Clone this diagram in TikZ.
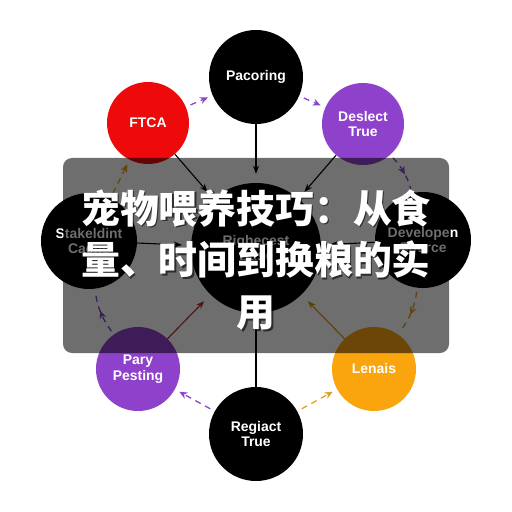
\documentclass[tikz,border=0pt]{standalone}
\usepackage{fontspec}
\setsansfont{Liberation Sans}
\newfontfamily\cjk{Noto Sans CJK SC}
\usepackage{tikz}
\usetikzlibrary{arrows.meta, positioning, decorations.markings}
\usepackage{xcolor}

\definecolor{ftcared}{RGB}{238,10,10}
\definecolor{bubblepurple}{RGB}{142,66,204}
\definecolor{bubbleorange}{RGB}{250,164,14}
\definecolor{flowpurple}{RGB}{140,70,205}
\definecolor{flowgold}{RGB}{228,160,30}
\definecolor{linkred}{RGB}{190,40,40}
\definecolor{linkgold}{RGB}{215,150,25}

\begin{document}
\begin{tikzpicture}[x=1bp, y=-1bp, on grid,
    bubble/.style={circle, inner sep=0pt, text=white, align=center,
        font=\sffamily\bfseries\fontsize{14}{16}\selectfont},
    link/.style={-{Stealth[length=8bp,width=6bp]}, line width=1.1bp, shorten >=9bp},
    flow/.style={dash pattern=on 6bp off 5bp, line width=1.3bp,
        shorten <=5bp, shorten >=5bp, -{Stealth[length=8bp,width=7bp]}},
    flowmid/.style={dash pattern=on 6bp off 5bp, line width=1.3bp,
        shorten <=4bp, shorten >=4bp, bend left=14,
        postaction={decorate, decoration={markings,
            mark=at position .55 with {\arrow{Stealth[length=8bp,width=7bp]}}}}}]
    \useasboundingbox[fill=white] (0,0) rectangle (512,512);

    \node[bubble, fill=black, minimum size=130bp] (righecest) at (256,248) {Righecest\\Base};
    \node[bubble, fill=black, minimum size=94bp] (pacoring) [above=171bp of righecest] {Pacoring};
    \node[bubble, fill=ftcared, minimum size=82bp] (ftca) [above left=125bp and 108bp of righecest] {FTCA};
    \node[bubble, fill=bubblepurple, minimum size=82bp] (deslect) [above right=124bp and 107bp of righecest] {Deslect\\True};
    \node[bubble, fill=black, minimum size=96bp] (stakeldint) [above left=7bp and 167bp of righecest] {Stakeldint\\Cache};
    \node[bubble, fill=black, minimum size=96bp] (developen) [above right=8bp and 167bp of righecest] {Developen\\Source};
    \node[bubble, fill=bubblepurple, minimum size=84bp] (pary) [below left=121bp and 118bp of righecest] {Pary\\Pesting};
    \node[bubble, fill=bubbleorange, minimum size=84bp] (lenais) [below right=121bp and 118bp of righecest] {Lenais};
    \node[bubble, fill=black, minimum size=94bp] (regiact) [below=186bp of righecest] {Regiact\\True};

    % spokes into the hub
    \path[link]
        (pacoring) edge (righecest)
        (ftca) edge (righecest)
        (deslect) edge (righecest)
        (stakeldint) edge (righecest)
        (developen) edge (righecest)
        (regiact) edge (righecest)
        (pary) edge[linkred] (righecest)
        (lenais) edge[linkgold] (righecest);

    % outer ring
    \path
        (ftca) edge[flow, flowpurple] (pacoring)
        (pacoring) edge[flow, flowpurple] (deslect)
        (deslect) edge[flowmid, flowpurple] (developen)
        (developen) edge[flowmid, flowgold] (lenais)
        (regiact) edge[flow, flowgold] (lenais)
        (regiact) edge[flow, flowpurple] (pary)
        (pary) edge[flowmid, flowpurple] (stakeldint)
        (stakeldint) edge[flow, flowgold] (ftca);

    % caption panel
    \fill[black, fill opacity=.57, rounded corners=9bp] (63,158) rectangle (449,353);
    \node[black, opacity=.6, align=center, font=\cjk\bfseries\fontsize{39}{52}\selectfont]
        (captionshadow) at (257.5,261.5) {宠物喂养技巧：从食\\量、时间到换粮的实\\用};
    \node[white, align=center, font=\cjk\bfseries\fontsize{39}{52}\selectfont]
        (caption) at (256,260) {宠物喂养技巧：从食\\量、时间到换粮的实\\用};
\end{tikzpicture}
\end{document}
